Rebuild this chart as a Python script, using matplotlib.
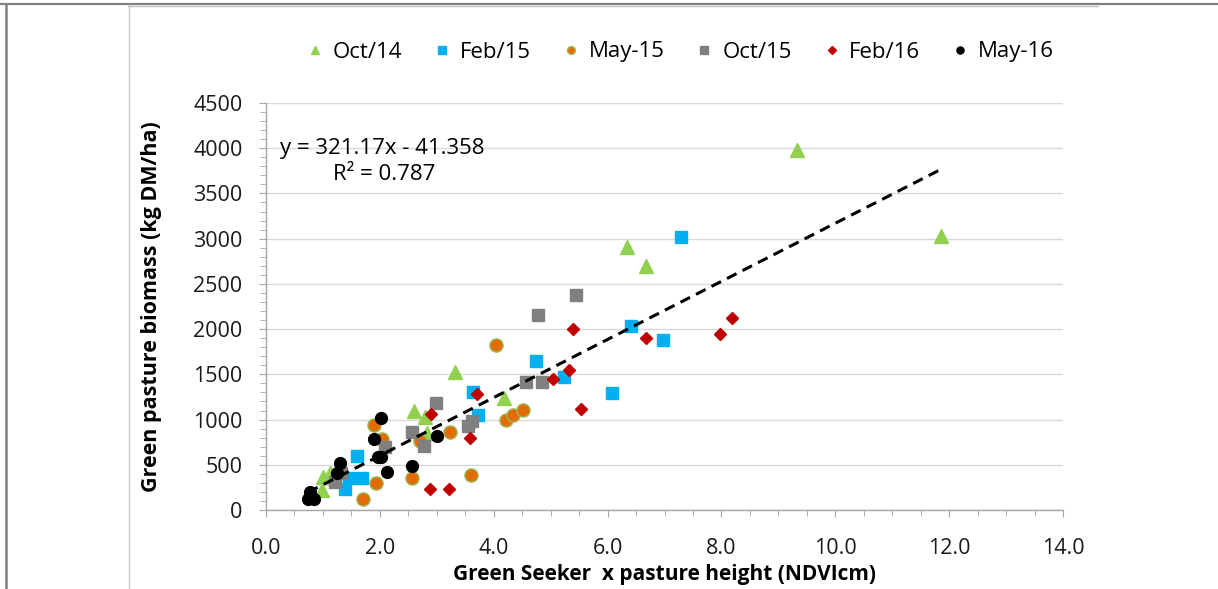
import matplotlib
matplotlib.use("Agg")
import matplotlib.pyplot as plt
from matplotlib.lines import Line2D
import numpy as np

plt.rcParams['font.family'] = ['Open Sans', 'DejaVu Sans']

# ---- data ----
oct14_x = [0.98, 1.01, 1.12, 2.60, 2.80, 2.83, 3.32, 4.18, 6.35, 6.67, 9.32, 11.85]
oct14_y = [221, 368, 405, 1098, 1025, 848, 1522, 1235, 2905, 2703, 3977, 3025]

feb15_x = [1.38, 1.45, 1.60, 1.69, 3.63, 3.73, 4.75, 5.23, 6.08, 6.42, 6.97, 7.29]
feb15_y = [236, 357, 601, 357, 1301, 1047, 1644, 1474, 1294, 2038, 1875, 3020]

may15_x = [1.70, 1.89, 1.94, 2.04, 2.56, 2.71, 3.24, 3.60, 4.04, 4.21, 4.34, 4.52]
may15_y = [122, 940, 295, 785, 357, 763, 859, 390, 1824, 995, 1047, 1102]

oct15_x = [1.21, 1.32, 2.09, 2.56, 2.77, 2.99, 3.54, 3.61, 4.57, 4.78, 4.85, 5.44]
oct15_y = [306, 413, 697, 862, 708, 1179, 929, 987, 1412, 2160, 1412, 2377]

feb16_x = [2.88, 2.89, 3.22, 3.58, 3.71, 5.04, 5.32, 5.40, 5.53, 6.68, 7.97, 8.18]
feb16_y = [236, 1061, 236, 800, 1286, 1448, 1548, 2005, 1113, 1905, 1945, 2120]

may16_x = [0.74, 0.78, 0.85, 1.25, 1.30, 1.90, 1.96, 2.02, 2.02, 2.12, 2.57, 3.01]
may16_y = [125, 195, 118, 413, 523, 781, 590, 590, 1021, 424, 490, 822]

slope, intercept = 321.17, -41.358
eq_text = "y = 321.17x - 41.358"
r2_text = "R\u00b2 = 0.787"

x_ticks = [0.0, 2.0, 4.0, 6.0, 8.0, 10.0, 12.0, 14.0]
y_ticks = [0, 500, 1000, 1500, 2000, 2500, 3000, 3500, 4000, 4500]

# ---- figure ----
W, H = 1218, 589
fig = plt.figure(figsize=(W / 100, H / 100), dpi=100)

# document frame lines
frame = fig.add_axes([0, 0, 1, 1])
frame.set_xlim(0, W)
frame.set_ylim(H, 0)
frame.axis('off')
frame.plot([0, W], [4, 4], color='#808080', lw=1.6)
frame.plot([128, 1098], [6, 6], color='#c0c0c0', lw=1.0)
frame.plot([6, 6], [4, H], color='#808080', lw=1.8)
frame.plot([128.5, 128.5], [6, H], color='#c8c8c8', lw=1.0)

L, R, B, T = 266, 1063, 510, 103
ax = fig.add_axes([L / W, 1 - B / H, (R - L) / W, (B - T) / H])

series = [
    ("Oct/14", oct14_x, oct14_y, dict(marker='^', color='#92D050', mec='#92D050', ms=10)),
    ("Feb/15", feb15_x, feb15_y, dict(marker='s', color='#00B0F0', mec='#00B0F0', ms=8.5)),
    ("May-15", may15_x, may15_y, dict(marker='o', color='#E36C09', mec='#9BBB59', ms=9.5, mew=1.0)),
    ("Oct/15", oct15_x, oct15_y, dict(marker='s', color='#808080', mec='#808080', ms=8.5)),
    ("Feb/16", feb16_x, feb16_y, dict(marker='D', color='#C00000', mec='#C00000', ms=6.5)),
    ("May-16", may16_x, may16_y, dict(marker='o', color='#000000', mec='#000000', ms=8.5)),
]

handles = []
for name, xs, ys, st in series:
    ax.plot(xs, ys, linestyle='none', zorder=3, **st)
    hs = dict(st)
    hs['ms'] = st['ms'] * 0.6
    handles.append(Line2D([], [], linestyle='none', label=name, **hs))

all_x = oct14_x + feb15_x + may15_x + oct15_x + feb16_x + may16_x
xl = np.array([min(all_x), max(all_x)])
ax.plot(xl, slope * xl + intercept, color='black', lw=2.2, ls=(0, (3.5, 2.2)), zorder=4)

ax.set_xlim(0, 14)
ax.set_ylim(0, 4500)
ax.set_xticks(x_ticks)
ax.set_xticklabels([f"{v:.1f}" for v in x_ticks])
ax.set_yticks(y_ticks)
ax.set_yticklabels([str(v) for v in y_ticks])
ax.set_xticks(np.arange(0, 14.01, 0.5), minor=True)
ax.set_yticks(np.arange(0, 4501, 100), minor=True)
ax.tick_params(axis='both', which='major', length=5, color='#a6a6a6', labelsize=15.5, labelcolor='#1a1a1a')
ax.tick_params(axis='both', which='minor', length=4, color='#a6a6a6')
ax.tick_params(axis='x', which='major', pad=15)
ax.tick_params(axis='y', which='major', pad=12)

ax.grid(axis='y', which='major', color='#d9d9d9', lw=1.0)
ax.set_axisbelow(True)
for s in ['top', 'right']:
    ax.spines[s].set_visible(False)
for s in ['left', 'bottom']:
    ax.spines[s].set_color('#a6a6a6')
    ax.spines[s].set_linewidth(1.0)

ax.set_xlabel("Green Seeker  x pasture height (NDVIcm)", fontsize=15, fontweight='bold', labelpad=4)
ax.set_ylabel("Green pasture biomass (kg DM/ha)", fontsize=15.5, fontweight='bold', labelpad=22)

ax.text(0.25, 4000, eq_text, fontsize=16, ha='left', va='center')
ax.text(1.17, 3710, r2_text, fontsize=16, ha='left', va='center')

fig.legend(handles=handles, loc='center', bbox_to_anchor=(680 / W, 1 - 52 / H), ncol=6,
           frameon=False, fontsize=16, handlelength=0.8, handletextpad=0.4,
           columnspacing=1.4)

fig.savefig("out.png", dpi=100)
